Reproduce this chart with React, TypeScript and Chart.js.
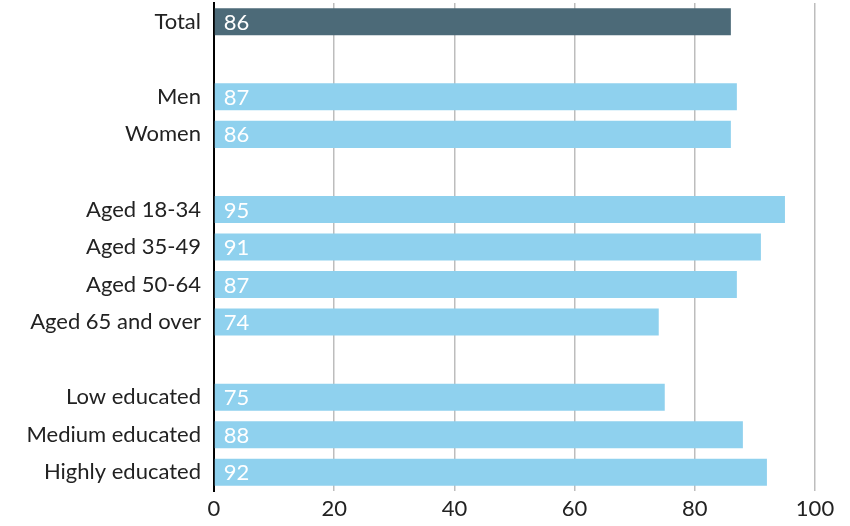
import React, { useEffect, useRef } from "react";
import { Chart, registerables } from "chart.js";

Chart.register(...registerables);

const categories = [
  "Total", "", "Men", "Women", "", "Aged 18-34", "Aged 35-49", "Aged 50-64", "Aged 65 and over", "",
  "Low educated", "Medium educated", "Highly educated",
];
const values: (number | null)[] = [86, null, 87, 86, null, 95, 91, 87, 74, null, 75, 88, 92];
const xTicks = [0, 20, 40, 60, 80, 100];

const DARK = "#4c6a78";
const LIGHT = "#8fd1ee";
const FONT = "Lato, 'Open Sans', sans-serif";

export default function App() {
  const ref = useRef<HTMLCanvasElement | null>(null);
  useEffect(() => {
    if (!ref.current) return;
    const labelPlugin = {
      id: "valueLabels",
      afterDatasetsDraw(chart: any) {
        const ctx = chart.ctx;
        const meta = chart.getDatasetMeta(0);
        ctx.save();
        ctx.fillStyle = "#ffffff";
        ctx.font = `22px ${FONT}`;
        ctx.textAlign = "left";
        ctx.textBaseline = "middle";
        meta.data.forEach((bar: any, i: number) => {
          const v = values[i];
          if (v == null) return;
          ctx.fillText(String(v), bar.base + 9, bar.y + 1);
        });
        ctx.restore();
      },
    };
    const chart = new Chart(ref.current, {
      type: "bar",
      data: {
        labels: categories,
        datasets: [
          {
            data: values,
            backgroundColor: values.map((_, i) => (i === 0 ? DARK : LIGHT)),
            barPercentage: 0.72,
            categoryPercentage: 1,
          },
        ],
      },
      options: {
        indexAxis: "y",
        animation: false,
        responsive: false,
        events: [],
        layout: { padding: { left: 0, right: 35, top: 3, bottom: 0 } },
        plugins: { legend: { display: false }, tooltip: { enabled: false } },
        scales: {
          x: {
            min: 0,
            max: 100,
            afterBuildTicks: (s: any) => {
              s.ticks = xTicks.map((v) => ({ value: v }));
            },
            afterFit: (s: any) => {
              s.height = 35;
              s.paddingLeft = 0;
              s.paddingRight = 0;
            },
            grid: { color: "#bdbdbd", lineWidth: 1.5, drawTicks: false },
            border: { display: false },
            ticks: { color: "#222222", font: { family: FONT, size: 22 }, padding: 5 },
          },
          y: {
            afterFit: (s: any) => {
              s.width = 214;
              s.paddingTop = 0;
              s.paddingBottom = 0;
            },
            grid: { display: false, drawTicks: false },
            border: { display: true, color: "#000000", width: 2 },
            ticks: { color: "#222222", font: { family: FONT, size: 22 }, padding: 13, autoSkip: false },
          },
        },
      },
      plugins: [labelPlugin],
    });
    return () => chart.destroy();
  }, []);
  return (
    <div style={{ position: "fixed", left: 0, top: 0, width: 850, height: 526, background: "#fff" }}>
      <canvas ref={ref} width={850} height={526} style={{ display: "block" }} />
    </div>
  );
}
